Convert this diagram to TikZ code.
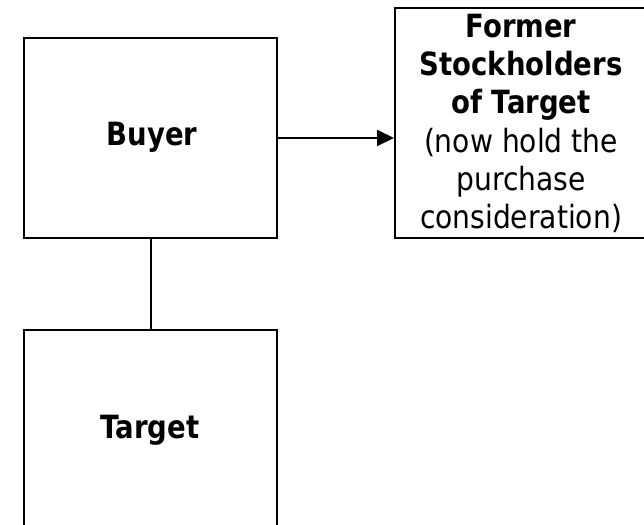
\documentclass[tikz,border=0pt]{standalone}
\usepackage{fontspec}
\setmainfont{DejaVu Sans}
\newfontfamily\regfont{DejaVu Sans}[FakeStretch=0.88]
\newfontfamily\boldfont{DejaVu Sans}[FakeStretch=0.86]
\usetikzlibrary{arrows.meta}
\begin{document}
\begin{tikzpicture}[x=1pt,y=-1pt,
  box/.style={draw=black,line width=2pt,fill=none},
  lbl/.style={inner sep=0pt,align=center,font=\fontsize{32pt}{38.3pt}\selectfont},
  conn/.style={draw=black,line width=2pt}]
\useasboundingbox (0,0) rectangle (644,524);
\clip (0,0) rectangle (644,524);
\node[box,minimum width=253pt,minimum height=200pt,anchor=north west] (buyer) at (23,37) {};
\node[box,minimum width=253pt,minimum height=200pt,anchor=north west] (target) at (23,329) {};
\node[box,minimum width=256pt,minimum height=230pt,anchor=north west] (former) at (394,7) {};
\node[lbl,font=\fontsize{32pt}{38.3pt}\boldfont\bfseries] (buyertxt) at (152,137) {Buyer};
\node[lbl,font=\fontsize{32pt}{38.3pt}\boldfont\bfseries] (targettxt) at (150,430) {Target};
\node[lbl,anchor=north] (formertxt) at (521,13.7) {{\boldfont\bfseries Former}\\{\boldfont\bfseries Stockholders}\\{\boldfont\bfseries of Target}\\{\regfont (now hold the}\\{\regfont purchase}\\{\regfont consideration)}};
\draw[conn] (buyer.south) -- (target.north);
\draw[conn,-{Triangle[length=17pt,width=16pt]}] (buyer.east) -- (buyer.east -| former.west);
\end{tikzpicture}
\end{document}
